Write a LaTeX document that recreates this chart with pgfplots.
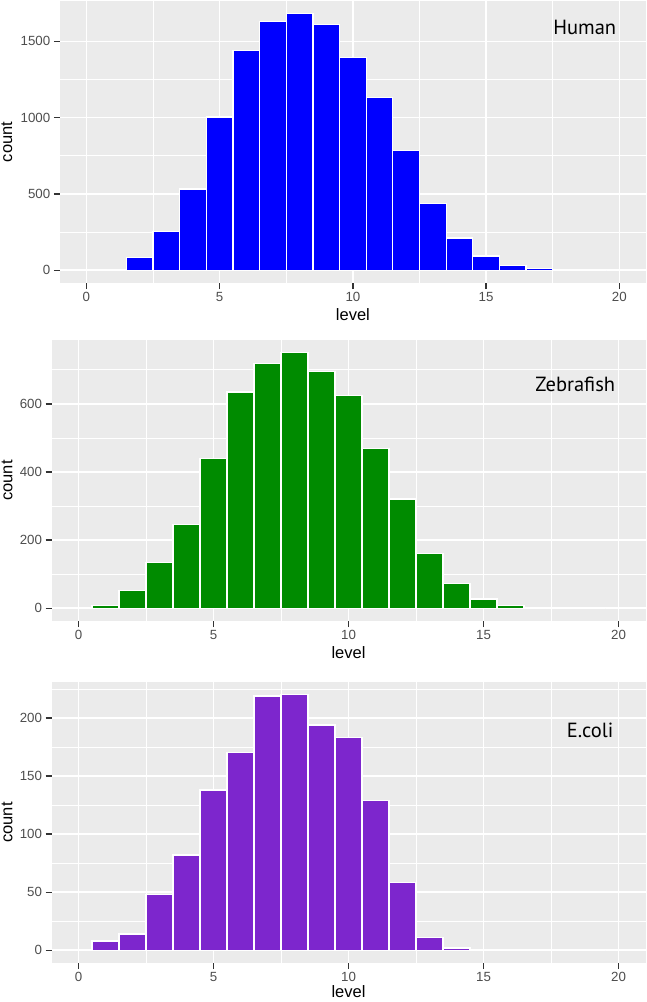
\documentclass[border=0pt]{standalone}
\usepackage{fontspec}
\setmainfont{Liberation Sans}
\newfontfamily\labfont{PT Sans}
\usepackage{pgfplots}
\pgfplotsset{compat=1.18}
\definecolor{gray92}{HTML}{EBEBEB}
\definecolor{gray30}{HTML}{4D4D4D}
\definecolor{gray20}{HTML}{333333}
\definecolor{green4}{HTML}{008B00}
\definecolor{purple3}{HTML}{7D26CD}
\pgfplotsset{
  gg/.style={
    scale only axis,
    anchor=south west,
    xmin=-1, xmax=21,
    xtick={0,5,10,15,20},
    minor xtick={2.5,7.5,12.5,17.5},
    grid=both,
    major grid style={white, line width=1.6pt},
    minor grid style={white, line width=0.8pt},
    axis background/.style={fill=gray92},
    axis line style={draw=none},
    tick align=outside,
    xtick pos=left, ytick pos=left,
    major tick length=6pt, minor tick length=0pt,
    every major tick/.style={gray20, line width=1.3pt},
    tick label style={font=\fontsize{13.3}{14}\selectfont, text=gray30},
    /pgf/number format/assume math mode=true,
    /pgf/number format/1000 sep={},
    xlabel=level, ylabel=count,
    label style={font=\fontsize{16.5}{18}\selectfont, text=black},
    xlabel style={at={(axis description cs:0.5,0)}, anchor=center, yshift=-32pt},
    clip=false,
  },
  bars/.style={ybar, bar width=1, draw=white, line width=1.2pt, bar shift=0pt},
}
\begin{document}
\begin{tikzpicture}
\useasboundingbox (0,0) rectangle (646pt,-1002pt);
% Human
\begin{axis}[gg, at={(59.8pt,-283pt)}, width=586.2pt, height=282pt,
  ymin=-84, ymax=1765,
  ytick={0,500,1000,1500}, minor ytick={250,750,1250},
  ylabel style={at={(axis description cs:-0.0901,0.5)}, anchor=center}]
\addplot[bars, fill=blue] coordinates {
(1,7) (2,84) (3,256) (4,533) (5,1004) (6,1443) (7,1632) (8,1681) (9,1610) (10,1396)
(11,1130) (12,784) (13,438) (14,211) (15,93) (16,31) (17,13) (18,0) (19,0)};
\node[font=\labfont\fontsize{20.5}{22}\selectfont] at (axis cs:18.7,1594) {Human};
\end{axis}
% Zebrafish
\begin{axis}[gg, at={(51.5pt,-621pt)}, width=594pt, height=281pt,
  ymin=-37.5, ymax=787.5,
  ytick={0,200,400,600}, minor ytick={100,300,500,700},
  ylabel style={at={(axis description cs:-0.0749,0.5)}, anchor=center}]
\addplot[bars, fill=green4] coordinates {
(1,8) (2,51) (3,135) (4,245) (5,439) (6,635) (7,718) (8,750) (9,694) (10,625)
(11,470) (12,321) (13,161) (14,73) (15,27) (16,7) (17,0) (18,0) (19,0)};
\node[font=\labfont\fontsize{20.5}{22}\selectfont] at (axis cs:18.4,658) {Zebrafish};
\end{axis}
% E.coli
\begin{axis}[gg, at={(51.5pt,-963pt)}, width=594pt, height=281pt,
  ymin=-11, ymax=231,
  ytick={0,50,100,150,200}, minor ytick={25,75,125,175,225},
  xlabel style={yshift=3pt},
  ylabel style={at={(axis description cs:-0.0749,0.5)}, anchor=center}]
\addplot[bars, fill=purple3] coordinates {
(1,8) (2,14) (3,48) (4,82) (5,138) (6,170) (7,219) (8,220) (9,194) (10,183)
(11,129) (12,58) (13,11) (14,2) (15,0) (16,0) (17,0) (18,0) (19,0)};
\node[font=\labfont\fontsize{20.5}{22}\selectfont] at (axis cs:18.95,189) {E.coli};
\end{axis}
\end{tikzpicture}
\end{document}
